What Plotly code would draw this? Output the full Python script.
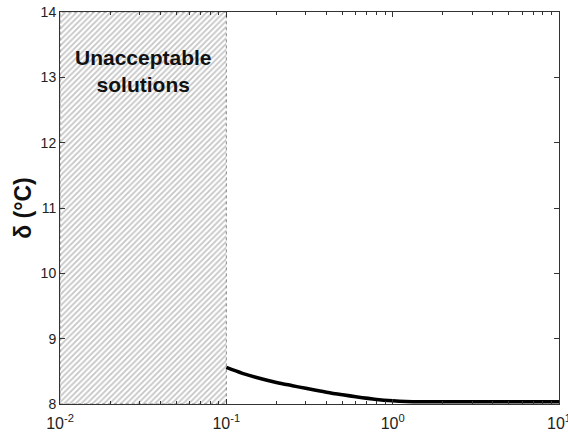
import plotly.graph_objects as go

# Data
curve_x = [0.1, 0.125, 0.15, 0.2, 0.25, 0.3, 0.4, 0.5, 0.6, 0.8, 1.0, 1.2, 1.5, 2.0, 5.0, 10.0]
curve_y = [8.56, 8.47, 8.41, 8.33, 8.28, 8.24, 8.18, 8.14, 8.11, 8.07, 8.05, 8.04, 8.035, 8.035, 8.035, 8.035]
region_x = [0.01, 0.1, 0.1, 0.01, 0.01]
region_y = [8, 8, 14, 14, 8]
region_label = "Unacceptable<br>solutions"
y_ticks = [8, 9, 10, 11, 12, 13, 14]
x_ticks = [0.01, 0.1, 1, 10]
x_ticklabels = ["10<sup>-2</sup>", "10<sup>-1</sup>", "10<sup>0</sup>", "10<sup>1</sup>"]

fig = go.Figure()
fig.add_trace(go.Scatter(
    x=region_x, y=region_y, mode="lines", fill="toself",
    fillcolor="white",
    fillpattern=dict(shape="/", fgcolor="#8c8c8c", bgcolor="white", size=4, solidity=0.45),
    line=dict(color="#888888", width=1, dash="dot"),
    hoverinfo="skip", showlegend=False))
fig.add_trace(go.Scatter(
    x=curve_x, y=curve_y, mode="lines",
    line=dict(color="black", width=3.5, shape="spline", smoothing=1.0),
    showlegend=False))

fig.add_annotation(x=-1.5, y=13.1, xref="x", yref="y", text="<b>" + region_label + "</b>",
                   showarrow=False, font=dict(family="Liberation Sans, Arial", size=21, color="#111"),
                   bgcolor="rgba(255,255,255,0)")

axis_common = dict(showline=True, linecolor="#333", linewidth=1, mirror="ticks", automargin=False,
                   ticks="inside", ticklen=5, tickcolor="#333", showgrid=False, zeroline=False)
fig.update_xaxes(type="log", range=[-2, 1], tickvals=x_ticks, ticktext=x_ticklabels,
                 ticklabeloverflow="allow", ticklabelstandoff=5,
                 tickfont=dict(family="Liberation Sans, Arial", size=16, color="#222"),
                 minor=dict(ticks="inside", ticklen=3, tickcolor="#333", showgrid=False,
                            tickvals=[2e-2,3e-2,4e-2,5e-2,6e-2,7e-2,8e-2,9e-2,
                                      0.2,0.3,0.4,0.5,0.6,0.7,0.8,0.9,
                                      2,3,4,5,6,7,8,9]),
                 **axis_common)
fig.update_yaxes(range=[8, 14], tickvals=y_ticks,
                 tickfont=dict(family="Liberation Sans, Arial", size=14, color="#222"),
                 title=dict(text="<b>δ (°C)</b>", font=dict(family="Liberation Sans, Arial", size=23, color="#111"), standoff=2),
                 **axis_common)

fig.update_layout(width=568, height=436, margin=dict(l=60, r=9, t=12, b=32),
                  plot_bgcolor="white", paper_bgcolor="white")
fig.write_html("out.html")
